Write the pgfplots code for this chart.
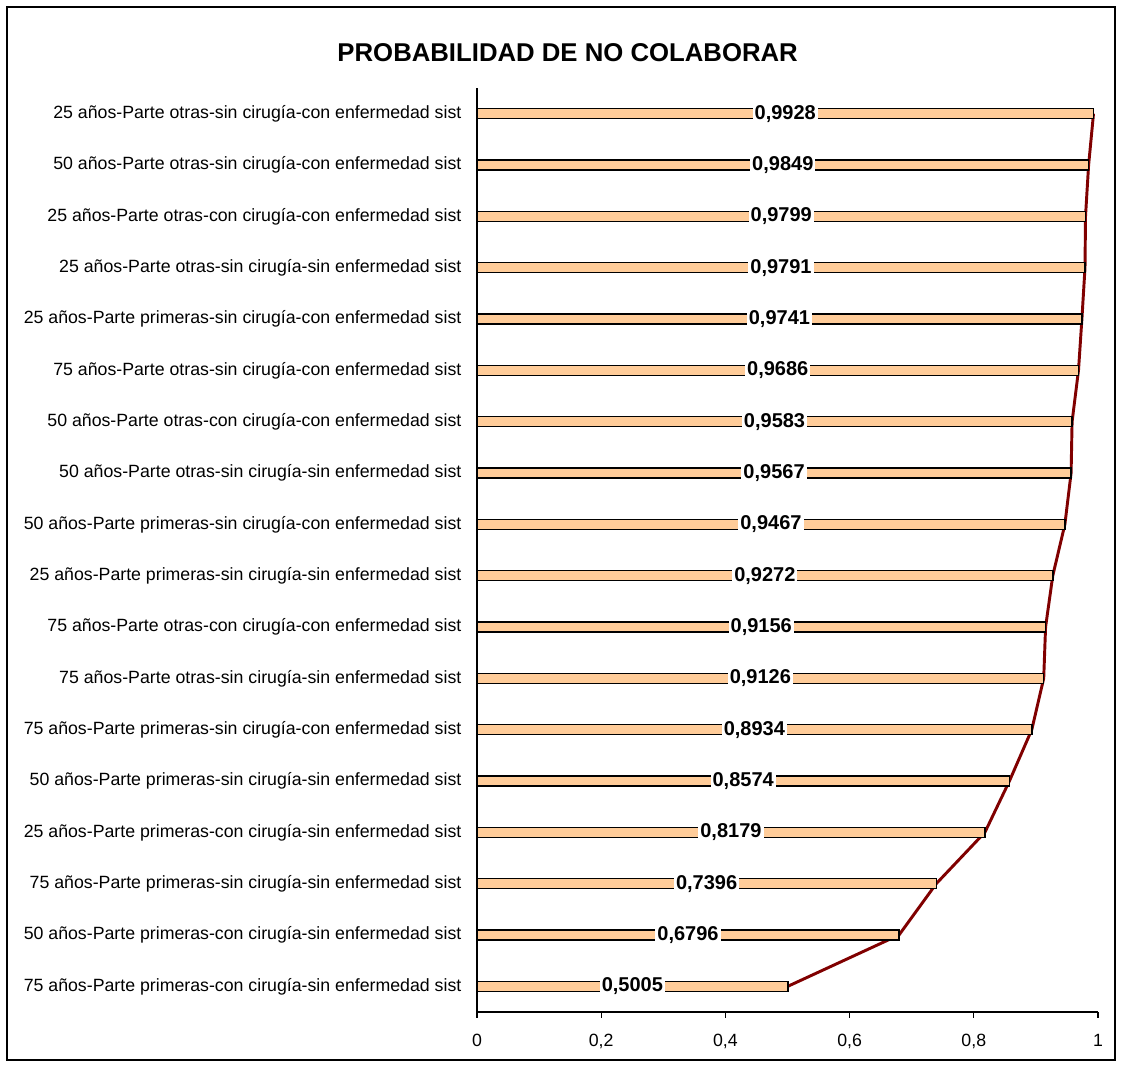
\documentclass[border=0pt]{standalone}
\usepackage{fontspec}
\setmainfont{Liberation Sans}
\usepackage{pgfplots}
\usepackage{pgfplotstable}
\pgfplotsset{compat=1.18}
\definecolor{peach}{HTML}{FFCC99}
\definecolor{darkred}{HTML}{800000}
\pgfplotstableread{
idx v lab
0 0.5005 0,5005
1 0.6796 0,6796
2 0.7396 0,7396
3 0.8179 0,8179
4 0.8574 0,8574
5 0.8934 0,8934
6 0.9126 0,9126
7 0.9156 0,9156
8 0.9272 0,9272
9 0.9467 0,9467
10 0.9567 0,9567
11 0.9583 0,9583
12 0.9686 0,9686
13 0.9741 0,9741
14 0.9791 0,9791
15 0.9799 0,9799
16 0.9849 0,9849
17 0.9928 0,9928
}\data
\begin{document}
\begin{tikzpicture}
\path (-357.75pt,-41.25pt) rectangle (483.75pt,759pt);
\draw[line width=1.2pt] (-352.5pt,-36pt) rectangle (478.5pt,753.75pt);
\begin{axis}[
  at={(0,0)}, anchor=south west,
  scale only axis, width=465.75pt, height=693pt,
  xmin=0, xmax=1, ymin=-0.5, ymax=17.5,
  enlargelimits=false,
  axis lines*=left,
  axis line style={line width=1.1pt},
  tick align=outside,
  major tick length=4.5pt,
  xtick={0,0.2,0.4,0.6,0.8,1},
  xticklabels={0,{0,2},{0,4},{0,6},{0,8},1},
  xtick style={line width=1pt, black},
  ytick={0,...,17},
  ytick style={draw=none},
  yticklabels={
    75 años-Parte primeras-con cirugía-sin enfermedad sist,
    50 años-Parte primeras-con cirugía-sin enfermedad sist,
    75 años-Parte primeras-sin cirugía-sin enfermedad sist,
    25 años-Parte primeras-con cirugía-sin enfermedad sist,
    50 años-Parte primeras-sin cirugía-sin enfermedad sist,
    75 años-Parte primeras-sin cirugía-con enfermedad sist,
    75 años-Parte otras-sin cirugía-sin enfermedad sist,
    75 años-Parte otras-con cirugía-con enfermedad sist,
    25 años-Parte primeras-sin cirugía-sin enfermedad sist,
    50 años-Parte primeras-sin cirugía-con enfermedad sist,
    50 años-Parte otras-sin cirugía-sin enfermedad sist,
    50 años-Parte otras-con cirugía-con enfermedad sist,
    75 años-Parte otras-sin cirugía-con enfermedad sist,
    25 años-Parte primeras-sin cirugía-con enfermedad sist,
    25 años-Parte otras-sin cirugía-sin enfermedad sist,
    25 años-Parte otras-con cirugía-con enfermedad sist,
    50 años-Parte otras-sin cirugía-con enfermedad sist,
    25 años-Parte otras-sin cirugía-con enfermedad sist},
  tick label style={font=\fontsize{13.3}{15}\selectfont},
  yticklabel style={anchor=east, inner sep=0pt, xshift=-7pt},
  xticklabel style={anchor=north, inner sep=0pt, yshift=-12pt},
  clip=false,
]
\addplot[color=darkred, line width=2.2pt, mark=none] table[x=v, y=idx]{\data};
\addplot[xbar, bar width=7.5pt, fill=peach, draw=black, line width=1.1pt] table[x=v, y=idx]{\data};
\addplot[only marks, mark=none, point meta=explicit symbolic, nodes near coords,
  every node near coord/.append style={anchor=center, fill=white, inner sep=1.5pt,
    font=\bfseries\fontsize{15}{15}\selectfont}]
  table[x expr=\thisrow{v}/2, y=idx, meta=lab]{\data};
\end{axis}
\node[font=\bfseries\fontsize{19.3}{19.3}\selectfont] at (68pt,719.25pt) {PROBABILIDAD DE NO COLABORAR};
\end{tikzpicture}
\end{document}
